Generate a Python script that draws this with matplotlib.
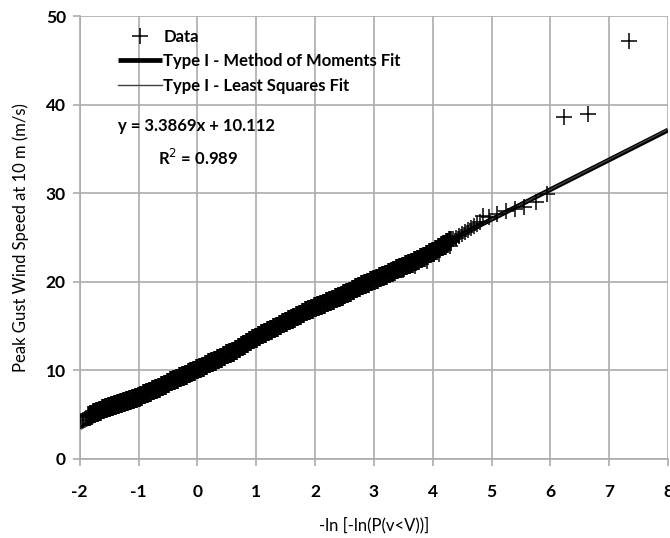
import matplotlib
matplotlib.use("Agg")
import matplotlib.pyplot as plt

plt.rcParams['font.family'] = ['Lato', 'DejaVu Sans']
plt.rcParams['axes.unicode_minus'] = False

# reduced variate vs observed peak gust, dense middle of the record
band_x = [-1.85, -1.8, -1.75, -1.7, -1.65, -1.6,
          -1.55, -1.5, -1.45, -1.4, -1.35, -1.3, -1.25, -1.2, -1.15, -1.1,
          -1.05, -1.0, -0.95, -0.9, -0.85, -0.8, -0.75, -0.7, -0.65, -0.6,
          -0.55, -0.5, -0.45, -0.4, -0.35, -0.3, -0.25, -0.2, -0.15, -0.1,
          -0.05, 0.0, 0.05, 0.1, 0.15, 0.2, 0.25, 0.3, 0.35, 0.4,
          0.45, 0.5, 0.55, 0.6, 0.65, 0.7, 0.75, 0.8, 0.85, 0.9,
          0.95, 1.0, 1.05, 1.1, 1.15, 1.2, 1.25, 1.3, 1.35, 1.4,
          1.45, 1.5, 1.55, 1.6, 1.65, 1.7, 1.75, 1.8, 1.85, 1.9,
          1.95, 2.0, 2.05, 2.1, 2.15, 2.2, 2.25, 2.3, 2.35, 2.4,
          2.45, 2.5, 2.55, 2.6, 2.65, 2.7, 2.75, 2.8, 2.85, 2.9,
          2.95, 3.0, 3.05, 3.1, 3.15, 3.2, 3.25, 3.3, 3.35, 3.4,
          3.45, 3.5, 3.55, 3.6, 3.65, 3.7, 3.75, 3.8, 3.85, 3.9,
          3.95, 4.0, 4.05, 4.1, 4.15, 4.2, 4.25, 4.3]
band_y = [4.8, 5.0, 5.15, 5.3, 5.45, 5.6,
          5.75, 5.9, 6.0, 6.1, 6.2, 6.3, 6.4, 6.5, 6.65, 6.8,
          6.9, 7.0, 7.15, 7.3, 7.45, 7.6, 7.75, 7.9, 8.05, 8.2,
          8.4, 8.6, 8.75, 8.9, 9.05, 9.2, 9.35, 9.5, 9.65, 9.8,
          9.95, 10.1, 10.25, 10.4, 10.6, 10.8, 10.95, 11.1, 11.25, 11.4,
          11.6, 11.8, 11.95, 12.1, 12.3, 12.5, 12.7, 12.9, 13.1, 13.3,
          13.5, 13.7, 13.9, 14.1, 14.25, 14.4, 14.6, 14.8, 14.95, 15.1,
          15.3, 15.5, 15.65, 15.8, 15.95, 16.1, 16.3, 16.5, 16.65, 16.8,
          16.95, 17.1, 17.25, 17.4, 17.55, 17.7, 17.85, 18.0, 18.15, 18.3,
          18.45, 18.6, 18.75, 18.9, 19.1, 19.3, 19.45, 19.6, 19.75, 19.9,
          20.05, 20.2, 20.35, 20.5, 20.65, 20.8, 20.95, 21.1, 21.25, 21.4,
          21.55, 21.7, 21.85, 22.0, 22.15, 22.3, 22.5, 22.7, 22.85, 23.0,
          23.2, 23.4, 23.6, 23.8, 24.0, 24.2, 24.4, 24.6]

# sparse ends of the record and the three largest gusts
tail_x = [-2.05, -2.0, -1.95, -1.9,
          3.5, 3.7, 3.9, 4.1, 4.3,
          4.35, 4.4, 4.45, 4.5, 4.55, 4.6, 4.65, 4.7, 4.75, 4.8, 4.85,
          4.95, 5.1, 5.25, 5.4, 5.55, 5.75, 5.95,
          6.23, 6.64, 7.34]
tail_y = [4.1, 4.25, 4.4, 4.6,
          21.3, 21.8, 22.4, 23.1, 24.0,
          24.8, 25.0, 25.2, 25.4, 25.65, 25.9, 26.1, 26.3, 26.5, 26.7, 27.4,
          27.3, 27.7, 28.0, 28.2, 28.5, 29.0, 29.9,
          38.6, 38.9, 47.2]

fit_x = [-2, 8]
mom_slope, mom_icpt = 3.36, 10.25
ls_slope, ls_icpt = 3.3869, 10.112
r2 = 0.989

fig = plt.figure(figsize=(6.7, 5.38), dpi=100)
ax = fig.add_axes([0.119, 0.147, 0.878, 0.823])

ax.plot(band_x, band_y, ls='none', marker='+', ms=15, mew=2.6, color='black',
        zorder=3)
ax.plot(tail_x, tail_y, ls='none', marker='+', ms=11, mew=1.1, color='black',
        label='Data', zorder=3)
ax.plot(fit_x, [mom_slope * v + mom_icpt for v in fit_x], color='black', lw=3.4,
        solid_capstyle='butt', label='Type I - Method of Moments Fit', zorder=2)
ax.plot(fit_x, [ls_slope * v + ls_icpt for v in fit_x], color='#404040', lw=1.0,
        label='Type I - Least Squares Fit', zorder=2)

ax.set_xlim(-2, 8)
ax.set_ylim(0, 50)
ax.set_xticks(range(-2, 9))
ax.set_yticks(range(0, 51, 10))
ax.grid(True, color='#acacac', lw=1.2)
ax.set_axisbelow(True)
for s in ['top', 'right']:
    ax.spines[s].set_visible(False)
for s in ['left', 'bottom']:
    ax.spines[s].set_color('#acacac')
    ax.spines[s].set_linewidth(1.2)
ax.tick_params(direction='out', length=5, width=1.2, color='#acacac',
               labelsize=12.5)
for lab in ax.get_xticklabels() + ax.get_yticklabels():
    lab.set_fontweight('bold')
ax.tick_params(axis='x', pad=13)
ax.tick_params(axis='y', pad=5)

ax.set_xlabel('-ln [-ln(P(v<V))]', fontsize=12, labelpad=12)
ax.set_ylabel('Peak Gust Wind Speed at 10 m (m/s)', fontsize=12, labelpad=12)

leg = ax.legend(loc='upper left', bbox_to_anchor=(0.04, 1.005), frameon=False,
                handlelength=2.6, handletextpad=0.1, labelspacing=0.5,
                prop={'weight': 'bold', 'size': 12})

ax.text(0.065, 0.752, f'y = {ls_slope}x + {ls_icpt}', transform=ax.transAxes,
        fontsize=12, fontweight='bold', va='center')
ax.text(0.133, 0.679, f'R$^2$ = {r2}', transform=ax.transAxes,
        fontsize=12, fontweight='bold', va='center')

fig.savefig('out.png', dpi=100)
